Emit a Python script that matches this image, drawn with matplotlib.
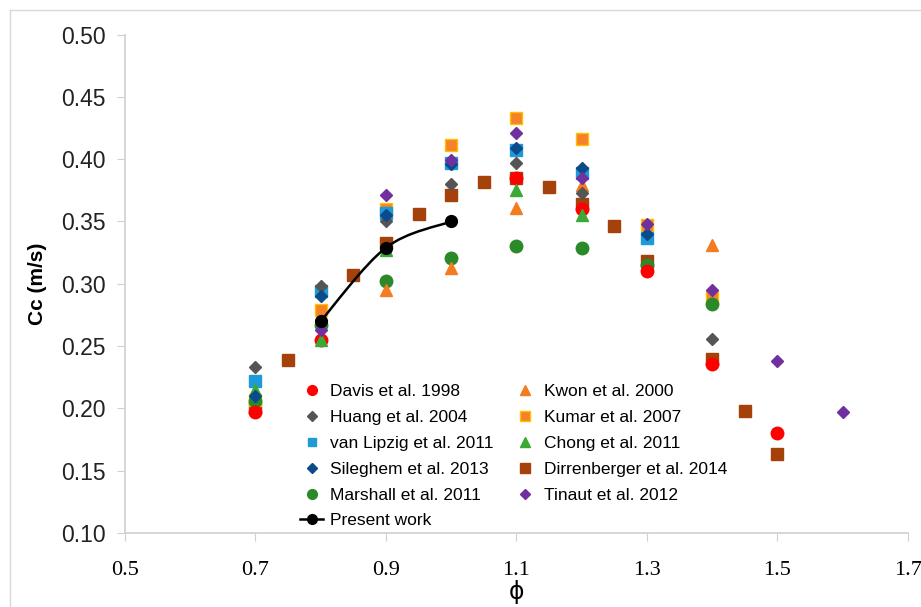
import matplotlib
matplotlib.use("Agg")
import matplotlib.pyplot as plt
from matplotlib.path import Path
from matplotlib.patches import PathPatch
from matplotlib.lines import Line2D

# equivalence ratio (phi) and Cc values
davis_x = [0.7, 0.8, 1.1, 1.2, 1.3, 1.4, 1.5]
davis_y = [0.197, 0.255, 0.385, 0.360, 0.310, 0.236, 0.180]

kwon_x = [0.9, 1.0, 1.1, 1.2, 1.4]
kwon_y = [0.295, 0.313, 0.361, 0.379, 0.331]

huang_x = [0.7, 0.8, 0.9, 1.0, 1.1, 1.2, 1.4]
huang_y = [0.233, 0.298, 0.350, 0.380, 0.397, 0.373, 0.256]

kumar_x = [0.7, 0.8, 0.9, 1.0, 1.1, 1.2, 1.3, 1.4]
kumar_y = [0.207, 0.279, 0.360, 0.411, 0.433, 0.416, 0.347, 0.290]

lipzig_x = [0.7, 0.8, 0.9, 1.0, 1.1, 1.2, 1.3]
lipzig_y = [0.222, 0.294, 0.357, 0.397, 0.407, 0.389, 0.337]

chong_x = [0.7, 0.8, 0.9, 1.1, 1.2]
chong_y = [0.215, 0.255, 0.327, 0.375, 0.355]

sileghem_x = [0.7, 0.8, 0.9, 1.0, 1.1, 1.2, 1.3]
sileghem_y = [0.210, 0.290, 0.355, 0.396, 0.409, 0.393, 0.340]

dirren_x = [0.7, 0.75, 0.85, 0.9, 0.95, 1.0, 1.05, 1.1, 1.15, 1.2, 1.25, 1.3, 1.4, 1.45, 1.5]
dirren_y = [0.200, 0.239, 0.307, 0.333, 0.356, 0.371, 0.382, 0.385, 0.378, 0.364, 0.346, 0.318, 0.240, 0.198, 0.163]

marshall_x = [0.7, 0.8, 0.9, 1.0, 1.1, 1.2, 1.3, 1.4]
marshall_y = [0.206, 0.267, 0.302, 0.321, 0.330, 0.329, 0.315, 0.284]

tinaut_x = [0.8, 0.9, 1.0, 1.1, 1.2, 1.3, 1.4, 1.5, 1.6]
tinaut_y = [0.263, 0.371, 0.399, 0.421, 0.385, 0.348, 0.295, 0.238, 0.197]

present_x = [0.8, 0.9, 1.0]
present_y = [0.270, 0.329, 0.350]

x_ticks = [0.5, 0.7, 0.9, 1.1, 1.3, 1.5, 1.7]
y_ticks = [0.10, 0.15, 0.20, 0.25, 0.30, 0.35, 0.40, 0.45, 0.50]


def smooth_path(xs, ys):
    """Excel-style smoothed line as cubic bezier segments."""
    pts = list(zip(xs, ys))
    verts = [pts[0]]
    codes = [Path.MOVETO]
    n = len(pts)
    for i in range(n - 1):
        p0 = pts[i - 1] if i > 0 else pts[i]
        p1 = pts[i]
        p2 = pts[i + 1]
        p3 = pts[i + 2] if i + 2 < n else pts[i + 1]
        c1 = (p1[0] + (p2[0] - p0[0]) / 6, p1[1] + (p2[1] - p0[1]) / 6)
        c2 = (p2[0] - (p3[0] - p1[0]) / 6, p2[1] - (p3[1] - p1[1]) / 6)
        verts += [c1, c2, p2]
        codes += [Path.CURVE4] * 3
    return Path(verts, codes)


fig = plt.figure(figsize=(9.21, 6.07), dpi=100)
ax = fig.add_axes([0.1357, 0.122, 0.850, 0.821])

# light border around the chart area (only top and left show)
fig.add_artist(Line2D([10 / 921, 10 / 921], [0, 1 - 10 / 607], transform=fig.transFigure,
                      color="#d9d9d9", lw=1))
fig.add_artist(Line2D([10 / 921, 1], [1 - 10 / 607, 1 - 10 / 607], transform=fig.transFigure,
                      color="#d9d9d9", lw=1))

series = [
    (dirren_x, dirren_y, "s", "#a5410a", "#a5410a", 8.5, "Dirrenberger et al. 2014"),
    (kumar_x, kumar_y, "s", "#f5822a", "#ffc000", 8.5, "Kumar et al. 2007"),
    (lipzig_x, lipzig_y, "s", "#1e9ad6", "#1e9ad6", 8, "van Lipzig et al. 2011"),
    (marshall_x, marshall_y, "o", "#2a8a2a", "#2a8a2a", 9, "Marshall et al. 2011"),
    (davis_x, davis_y, "o", "#ff0000", "#ff0000", 9, "Davis et al. 1998"),
    (kwon_x, kwon_y, "^", "#f47b20", "#f47b20", 9, "Kwon et al. 2000"),
    (chong_x, chong_y, "^", "#3aaa35", "#3aaa35", 9, "Chong et al. 2011"),
    (huang_x, huang_y, "D", "#555555", "#555555", 6.5, "Huang et al. 2004"),
    (sileghem_x, sileghem_y, "D", "#0b4a8b", "#0b4a8b", 6.5, "Sileghem et al. 2013"),
    (tinaut_x, tinaut_y, "D", "#7030a0", "#7030a0", 6.5, "Tinaut et al. 2012"),
]

handles = {}
for xs, ys, m, fc, ec, ms, name in series:
    h, = ax.plot(xs, ys, linestyle="none", marker=m, markerfacecolor=fc,
                 markeredgecolor=ec, markersize=ms, markeredgewidth=1, label=name, zorder=3)
    handles[name] = h

ax.add_patch(PathPatch(smooth_path(present_x, present_y), facecolor="none",
                       edgecolor="black", lw=1.8, zorder=4))
ax.plot(present_x, present_y, linestyle="none", marker="o", color="black",
        markersize=8.5, zorder=5)
handles["Present work"] = Line2D([], [], color="black", lw=1.8, marker="o", markersize=7)

order = ["Davis et al. 1998", "Huang et al. 2004", "van Lipzig et al. 2011",
         "Sileghem et al. 2013", "Marshall et al. 2011", "Present work",
         "Kwon et al. 2000", "Kumar et al. 2007", "Chong et al. 2011",
         "Dirrenberger et al. 2014", "Tinaut et al. 2012"]
leg_handles = []
for name in order:
    h = handles[name]
    if name != "Present work":
        h = Line2D([], [], linestyle="none", marker=h.get_marker(),
                   markerfacecolor=h.get_markerfacecolor(),
                   markeredgecolor=h.get_markeredgecolor(),
                   markersize=h.get_markersize() * 0.78)
    leg_handles.append(h)

ax.legend(leg_handles, order, ncol=2, frameon=False, loc="lower left",
          bbox_to_anchor=(0.215, -0.005), prop={"family": "Liberation Sans", "size": 12.5},
          handlelength=1.3, handletextpad=0.4, columnspacing=1.2, labelspacing=0.62,
          borderaxespad=0)

ax.set_xlim(0.5, 1.7)
ax.set_ylim(0.10, 0.50)
ax.set_xticks(x_ticks)
ax.set_yticks(y_ticks)
ax.set_xticklabels([f"{v:.1f}" for v in x_ticks], fontfamily="Liberation Serif", fontsize=16)
ax.set_yticklabels([f"{v:.2f}" for v in y_ticks], fontfamily="Liberation Sans", fontsize=16.5)
ax.tick_params(axis="x", colors="#d0d0d0", labelcolor="black", length=6, pad=14)
ax.tick_params(axis="y", colors="#d0d0d0", labelcolor="#222222", length=6, pad=8)

for s in ["top", "right"]:
    ax.spines[s].set_visible(False)
for s in ["left", "bottom"]:
    ax.spines[s].set_color("#d0d0d0")
    ax.spines[s].set_linewidth(1.2)

ax.set_ylabel("Cc (m/s)", fontfamily="Liberation Sans", fontweight="bold", fontsize=15, labelpad=10)
ax.set_xlabel("ϕ", fontfamily="DejaVu Sans", fontsize=17, labelpad=0)

fig.savefig("out.png", dpi=100)
